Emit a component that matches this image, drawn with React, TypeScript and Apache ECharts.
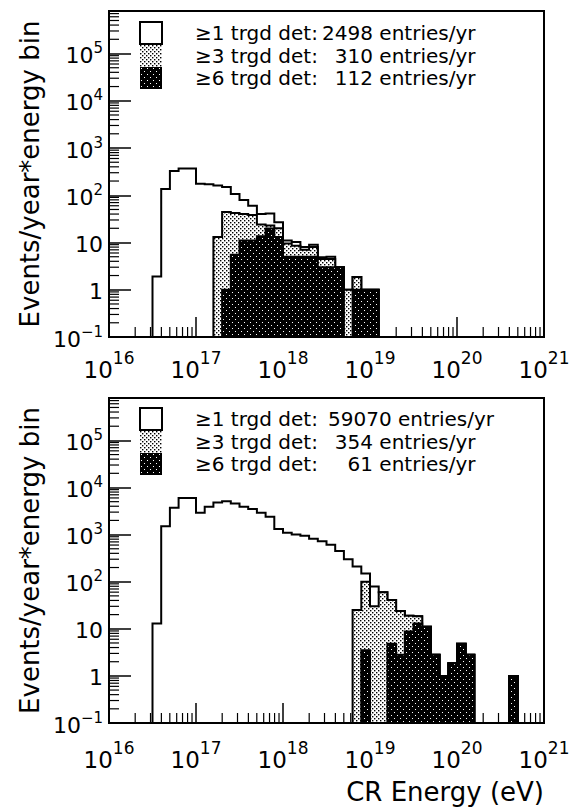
import React, { useEffect, useRef } from 'react';
import * as echarts from 'echarts';

const FONT = '"DejaVu Sans", sans-serif';
const BIN = 0.1; // bin width, in decades of energy

const X_MIN = 1e16;
const X_MAX = 1e21;
const Y_MIN = 0.1;
const Y_MAX = Math.pow(10, 5.9);

const minorMultipliers = [2, 3, 4, 5, 6, 7, 8, 9];
const xDecades = [16, 17, 18, 19, 20];
const yDecades = [-1, 0, 1, 2, 3, 4, 5];

// legend texts
const legendLabels = ['≥1 trgd det', '≥3 trgd det', '≥6 trgd det'];
const topEntries = [2498, 310, 112];
const botEntries = [59070, 354, 61];

// ---- top panel (events / year / bin), bins of 0.1 decade, first bin low edge = log10(E)
const topGe1Start = 16.5;
const topGe1 = [1.9, 135, 327, 370, 370, 175, 170, 160, 150, 106, 79, 60, 40, 41, 27, 11, 10.2, 8, 9, 4.9, 5, 3, 1, 1.86, 1, 1];
const topGe3Start = 17.2;
const topGe3 = [13, 44, 42, 40, 38, 24, 23, 20, 9.5, 8.5, 7, 8, 4.5, 4.5, 3, 1, 1.86, 1, 1];
const topGe6Start = 17.3;
const topGe6 = [1, 5.5, 11, 11, 13.6, 19.7, 13, 5, 5, 5, 5, 3, 3, 3, 0, 1, 1, 1];

// ---- bottom panel
const botGe1Start = 16.5;
const botGe1 = [13, 1500, 3700, 6000, 6000, 2900, 3900, 4800, 5100, 4600, 3900, 3500, 2900, 2400, 1320, 1100, 1000, 950, 820, 720, 610, 450, 300, 210, 150, 79, 60, 41, 24, 19, 18.5, 11, 2.8, 1, 1.86, 4.8, 2.8, 0, 0, 0, 0, 1];
const botGe3Start = 18.8;
const botGe3 = [25, 100, 30, 60, 41, 24, 19, 18.5, 11, 2.8, 1, 1.86, 4.8, 2.8, 0, 0, 0, 0, 1];
const botGe6Start = 18.9;
const botGe6 = [3.5, 0, 0, 4.8, 2.8, 8.8, 13, 11, 2.8, 1, 1.86, 4.8, 2.8, 0, 0, 0, 0, 1];

function edge(start: number, i: number) {
  return Math.pow(10, Math.round((start + i * BIN) * 100) / 100);
}

function binsOf(start: number, values: number[]) {
  return values.map((v, i) => [edge(start, i), edge(start, i + 1), v]);
}

function makePattern(bg: string, dot: string, size: number, dots: number[][]) {
  const c = document.createElement('canvas');
  c.width = size;
  c.height = size;
  const ctx = c.getContext('2d')!;
  ctx.fillStyle = bg;
  ctx.fillRect(0, 0, size, size);
  ctx.fillStyle = dot;
  dots.forEach(([x, y, w]) => ctx.fillRect(x, y, w, w));
  return { image: c, repeat: 'repeat' };
}

function histRender(fill: any) {
  return (params: any, api: any) => {
    if (params.dataIndexInside !== 0) return { type: 'group', children: [] };
    const n = params.dataInsideLength;
    const pts: number[][] = [];
    pts.push(api.coord([api.value(0, 0), Y_MIN]));
    for (let j = 0; j < n; j++) {
      const lo = api.value(0, j);
      const hi = api.value(1, j);
      const v = Math.max(api.value(2, j), Y_MIN);
      pts.push(api.coord([lo, v]));
      pts.push(api.coord([hi, v]));
    }
    pts.push(api.coord([api.value(1, n - 1), Y_MIN]));
    return {
      type: 'polygon',
      shape: { points: pts },
      style: { fill, stroke: '#000', lineWidth: 2, lineJoin: 'miter' },
    };
  };
}

function logLabel(v: number) {
  const l = Math.log10(v);
  const e = Math.round(l);
  if (Math.abs(l - e) > 1e-6) return '';
  if (e === 0) return '{b|1}';
  if (e === 1) return '{b|10}';
  return `{b|10}{s|${e < 0 ? '\u2212' + -e : e}}`;
}

export default function App() {
  const ref = useRef<HTMLDivElement>(null);

  useEffect(() => {
    const chart = echarts.init(ref.current!, undefined, { renderer: 'svg' });
    const light = makePattern('#ffffff', '#000000', 4, [[0, 0, 1.4], [2, 2, 1.4]]);
    const dark = makePattern('#000000', '#ffffff', 6, [[1, 1, 1], [4, 4, 1]]);
    const fills: any[] = ['none', light, dark];
    const iconStyles: any[] = [
      { color: '#ffffff', borderColor: '#000', borderWidth: 2 },
      { color: light, borderWidth: 0 },
      { color: dark, borderWidth: 0 },
    ];

    const topNames = legendLabels.map((l, i) => `${l}: ${topEntries[i]} entries/yr`);
    const botNames = legendLabels.map((l, i) => `${l}: ${botEntries[i]} entries/yr`);
    const richByName: Record<string, string> = {};
    [[topNames, topEntries], [botNames, botEntries]].forEach(([names, entries]: any) => {
      names.forEach((nm: string, i: number) => {
        const num = String(entries[i]);
        richByName[nm] = num.length <= 4
          ? `{sp| }{a|${legendLabels[i]}:}{n|${num}}{er| entries/yr}`
          : `{sp| }{a|${legendLabels[i]}:}{m|${num}}{e| entries/yr}`;
      });
    });

    const tokenBase = { fontFamily: FONT, fontSize: 20, lineHeight: 22, color: '#000' };
    const legendCommon = (names: string[], top: number) => ({
      data: names.map((nm, i) => ({ name: nm, icon: 'rect', itemStyle: iconStyles[i] })),
      left: 139,
      top,
      orient: 'vertical',
      itemWidth: 22,
      itemHeight: 22,
      itemGap: 0,
      padding: 0,
      selectedMode: false,
      formatter: (nm: string) => richByName[nm],
      textStyle: {
        ...tokenBase,
        rich: {
          sp: { ...tokenBase, width: 28 },
          a: { ...tokenBase, width: 133 },
          n: { ...tokenBase, width: 45, align: 'right' },
          m: { ...tokenBase },
          e: { ...tokenBase },
          er: { ...tokenBase, align: 'right' },
        },
      },
    });

    const xRich = {
      b: { fontFamily: FONT, fontSize: 23, lineHeight: 23, color: '#000', padding: [9, 0, 0, 0] },
      s: { fontFamily: FONT, fontSize: 17, lineHeight: 17, color: '#000', padding: [0, 0, 15, 0] },
    };
    const yRich = {
      b: { fontFamily: FONT, fontSize: 22, lineHeight: 22, color: '#000', padding: [4, 0, 0, 0] },
      s: { fontFamily: FONT, fontSize: 15, lineHeight: 15, color: '#000', padding: [0, 0, 11, 0] },
    };

    const xAxis = (gridIndex: number, margin: number, extra: any = {}) => ({
      type: 'log',
      logBase: 10,
      gridIndex,
      min: X_MIN,
      max: X_MAX,
      axisLine: { show: true, lineStyle: { color: '#000', width: 2 } },
      axisTick: { show: true, inside: true, length: 20, lineStyle: { color: '#000', width: 1.5 } },
      minorTick: { show: false },
      splitLine: { show: false },
      axisLabel: { margin, formatter: logLabel, rich: xRich, color: '#000' },
      ...extra,
    });
    const yAxis = (gridIndex: number) => ({
      type: 'log',
      logBase: 10,
      gridIndex,
      min: Y_MIN,
      max: Y_MAX,
      name: 'Events/year*energy bin',
      nameLocation: 'middle',
      nameGap: 66,
      nameRotate: 90,
      nameMoveOverlap: false,
      nameTextStyle: { fontFamily: FONT, fontSize: 26, color: '#000' },
      axisLine: { show: true, lineStyle: { color: '#000', width: 2 } },
      axisTick: { show: true, inside: true, length: 22, lineStyle: { color: '#000', width: 1.5 } },
      minorTick: { show: false },
      splitLine: { show: false },
      axisLabel: { margin: 6, formatter: logLabel, rich: yRich, color: '#000' },
    });

    const minorX: number[] = [];
    xDecades.forEach((d) => minorMultipliers.forEach((k) => minorX.push(k * Math.pow(10, d))));
    const minorY: number[] = [];
    yDecades.forEach((d) => minorMultipliers.forEach((k) => {
      const v = k * Math.pow(10, d);
      if (v < Y_MAX) minorY.push(v);
    }));

    const tickSeries = (g: number) => [
      {
        type: 'custom', xAxisIndex: g, yAxisIndex: g, silent: true, clip: false, z: 1,
        data: minorX.map((v) => [v, Y_MIN]),
        encode: { x: 0, y: 1 },
        renderItem: (p: any, api: any) => {
          const c = api.coord([api.value(0), api.value(1)]);
          return { type: 'line', shape: { x1: c[0], y1: c[1], x2: c[0], y2: c[1] - 10 }, style: { stroke: '#000', lineWidth: 1.2 } };
        },
      },
      {
        type: 'custom', xAxisIndex: g, yAxisIndex: g, silent: true, clip: false, z: 1,
        data: minorY.map((v) => [X_MIN, v]),
        encode: { x: 0, y: 1 },
        renderItem: (p: any, api: any) => {
          const c = api.coord([api.value(0), api.value(1)]);
          return { type: 'line', shape: { x1: c[0], y1: c[1], x2: c[0] + 10, y2: c[1] }, style: { stroke: '#000', lineWidth: 1.2 } };
        },
      },
    ];

    const hist = (name: string, g: number, start: number, values: number[], k: number) => ({
      type: 'custom',
      name,
      xAxisIndex: g,
      yAxisIndex: g,
      silent: true,
      clip: false,
      z: 2 + k,
      data: binsOf(start, values),
      encode: { x: [0, 1], y: 2 },
      itemStyle: { color: k === 0 ? '#ffffff' : fills[k] },
      renderItem: histRender(fills[k]),
    });

    const option: any = {
      animation: false,
      backgroundColor: '#ffffff',
      textStyle: { fontFamily: FONT, color: '#000' },
      grid: [
        { left: 109, top: 11, width: 435, height: 326, show: true, borderColor: '#000', borderWidth: 2, backgroundColor: 'transparent', outerBoundsMode: 'none' },
        { left: 109, top: 398, width: 435, height: 325, show: true, borderColor: '#000', borderWidth: 2, backgroundColor: 'transparent', outerBoundsMode: 'none' },
      ],
      xAxis: [
        xAxis(0, 17),
        xAxis(1, 21, {
          name: 'CR Energy (eV)',
          nameLocation: 'end',
          nameGap: 0,
          nameMoveOverlap: false,
          nameTextStyle: { fontFamily: FONT, fontSize: 26, lineHeight: 26, color: '#000', align: 'right', verticalAlign: 'top', padding: [56, 0, 0, 0] },
        }),
      ],
      yAxis: [yAxis(0), yAxis(1)],
      legend: [legendCommon(topNames, 21), legendCommon(botNames, 407)],
      series: [
        ...tickSeries(0),
        ...tickSeries(1),
        hist(topNames[0], 0, topGe1Start, topGe1, 0),
        hist(topNames[1], 0, topGe3Start, topGe3, 1),
        hist(topNames[2], 0, topGe6Start, topGe6, 2),
        hist(botNames[0], 1, botGe1Start, botGe1, 0),
        hist(botNames[1], 1, botGe3Start, botGe3, 1),
        hist(botNames[2], 1, botGe6Start, botGe6, 2),
      ],
    };
    chart.setOption(option);
    return () => chart.dispose();
  }, []);

  return (
    <div
      ref={ref}
      style={{ position: 'absolute', left: 0, top: 0, width: 575, height: 810, background: '#fff' }}
    />
  );
}
